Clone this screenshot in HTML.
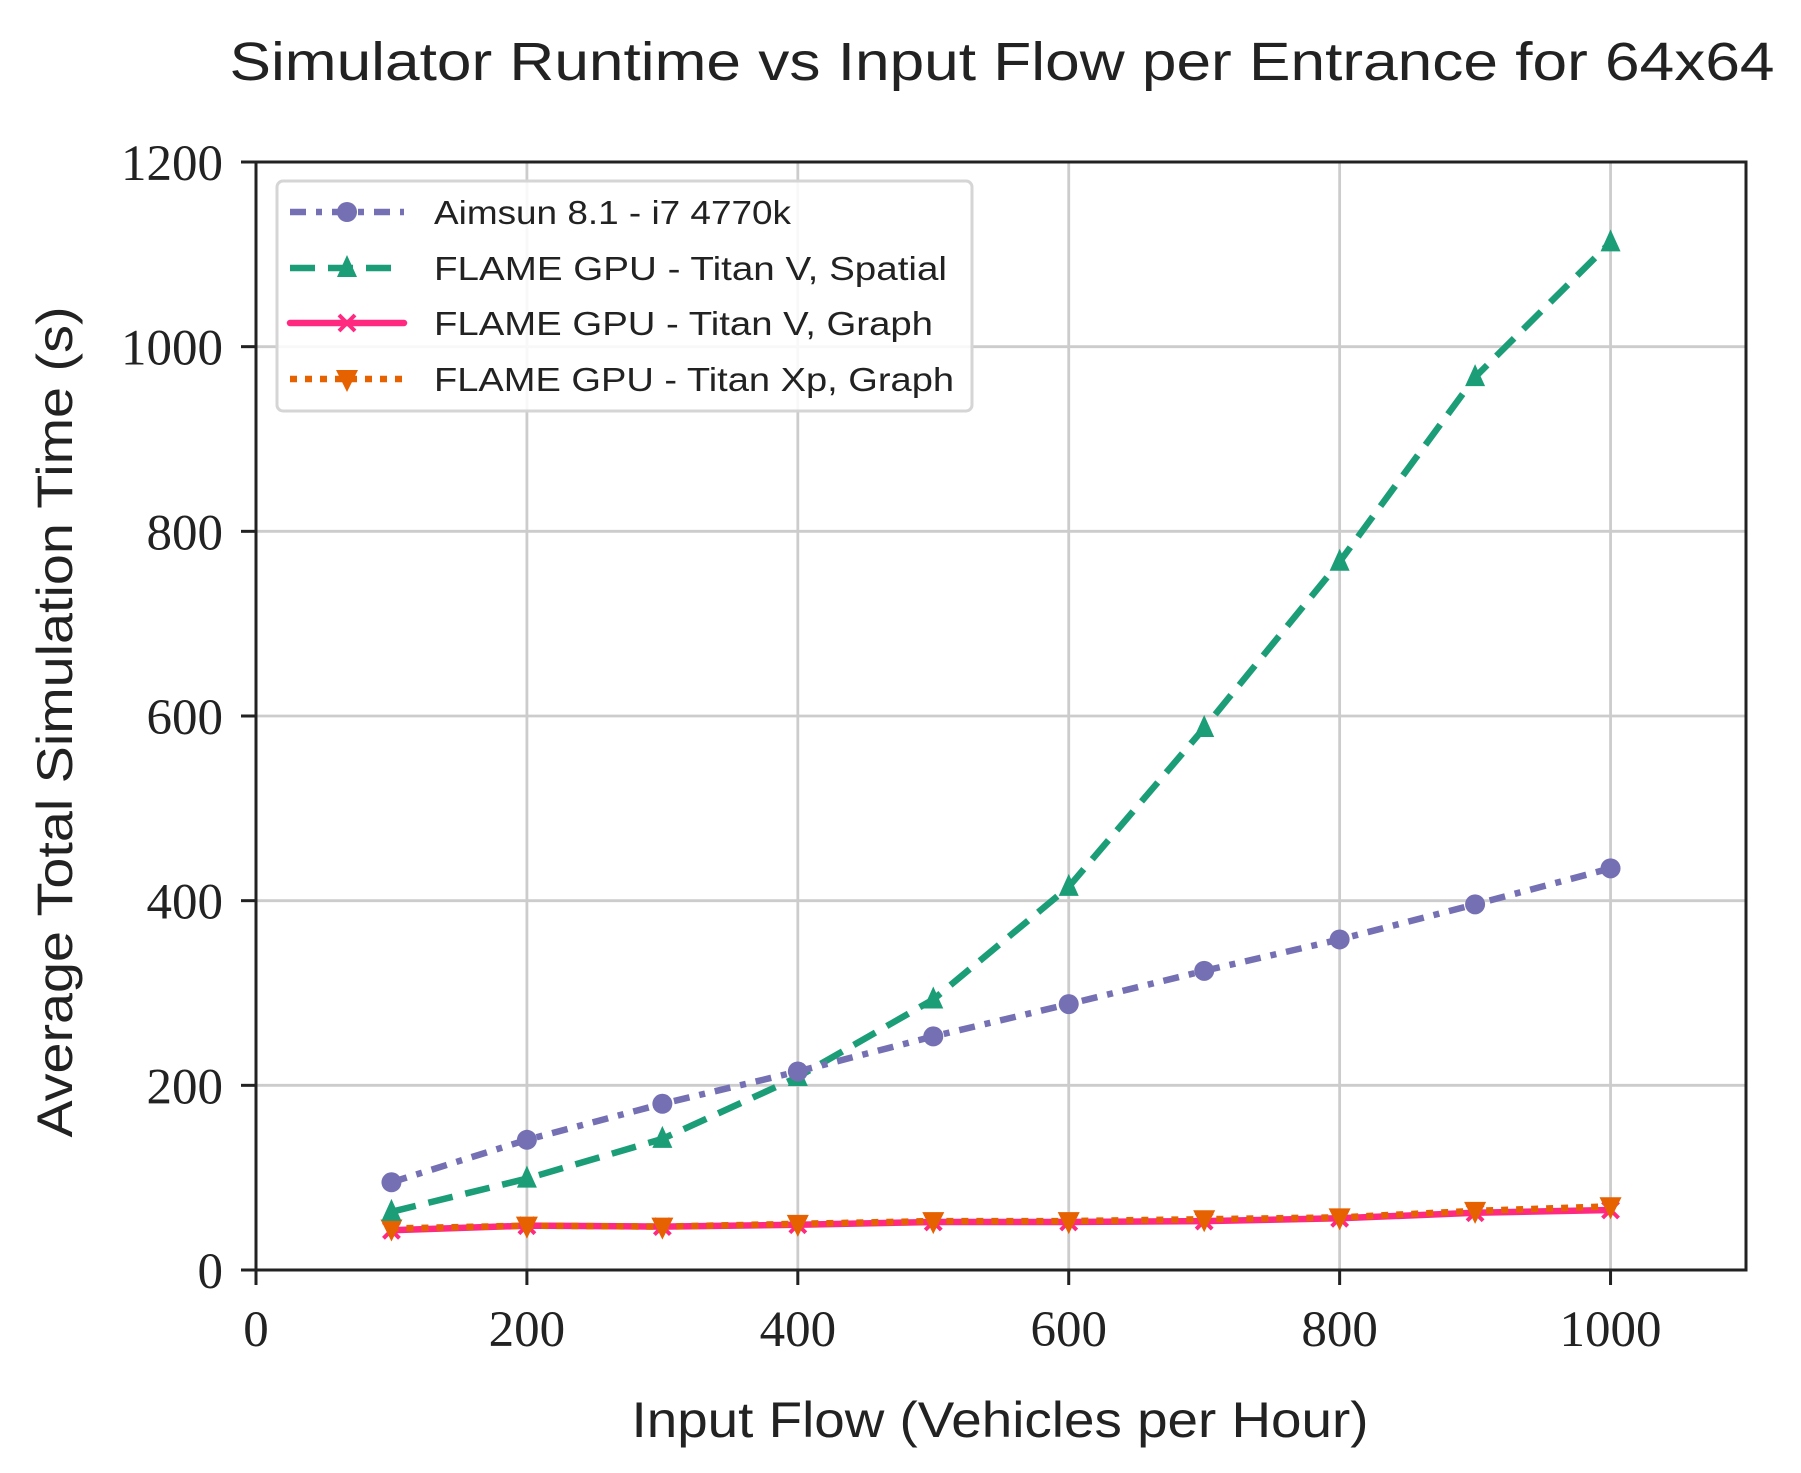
<!DOCTYPE html>
<html><head><meta charset="utf-8"><style>
body{margin:0;background:#fff;}
svg{display:block;}
.tick{font-family:"Liberation Serif",serif;font-size:51px;fill:#222;}
.sans{font-family:"Liberation Sans",sans-serif;fill:#222;}
</style></head><body>
<svg id="chart" width="1801" height="1473" viewBox="0 0 1801 1473">
<text x="1002" y="80" class="sans" font-size="54" text-anchor="middle" textLength="1545" lengthAdjust="spacingAndGlyphs">Simulator Runtime vs Input Flow per Entrance for 64x64</text>
<g id="grid"></g>
<g id="axes"></g>
<g id="series"></g>
<text x="1000" y="1437" class="sans" font-size="50" text-anchor="middle" textLength="737" lengthAdjust="spacingAndGlyphs">Input Flow (Vehicles per Hour)</text>
<text transform="translate(72,722) rotate(-90)" class="sans" font-size="50" text-anchor="middle" textLength="831" lengthAdjust="spacingAndGlyphs">Average Total Simulation Time (s)</text>
<g id="legend"></g>
</svg>
<script>
const categories = [100,200,300,400,500,600,700,800,900,1000];
const aimsun = [95,141,180,215,253,288,324,358,396,435];
const spatialV = [63,99,142,209,293,415,587,767,967,1113];
const graphV = [43,48,47,49,52,52,53,56,62,65];
const graphXp = [45,48,47,50,53,53,55,57,64,69];
const xTicks = [0,200,400,600,800,1000];
const yTicks = [0,200,400,600,800,1000,1200];
const seriesNames = ["Aimsun 8.1 - i7 4770k","FLAME GPU - Titan V, Spatial","FLAME GPU - Titan V, Graph","FLAME GPU - Titan Xp, Graph"];
const legendWidths = [357,513,499,520];

const L=256,R=1746,T=162,B=1270;
const xMax=1100,yMax=1200;
const sx=v=>L+(v/xMax)*(R-L);
const sy=v=>B-(v/yMax)*(B-T);
const NS="http://www.w3.org/2000/svg";
function mk(tag,attrs,parent){const e=document.createElementNS(NS,tag);for(const k in attrs)e.setAttribute(k,attrs[k]);parent.appendChild(e);return e;}
const grid=document.getElementById('grid'),axes=document.getElementById('axes'),ser=document.getElementById('series'),leg=document.getElementById('legend');

xTicks.forEach(v=>{
  const g=mk('line',{x1:sx(v),x2:sx(v),y1:T,y2:B,stroke:'#cccccc','stroke-width':2.8},grid);
  
  
  const t=mk('line',{x1:sx(v),x2:sx(v),y1:B,y2:B+15,stroke:'#222','stroke-width':3},axes);
  
  
  const l=mk('text',{x:sx(v),y:B+76,class:'tick','text-anchor':'middle'},axes);l.textContent=v;
  
  
});
yTicks.forEach(v=>{
  const g=mk('line',{x1:L,x2:R,y1:sy(v),y2:sy(v),stroke:'#cccccc','stroke-width':2.8},grid);
  
  
  const t=mk('line',{x1:L-15,x2:L,y1:sy(v),y2:sy(v),stroke:'#222','stroke-width':3},axes);
  
  
  const l=mk('text',{x:L-33,y:sy(v)+18,class:'tick','text-anchor':'end'},axes);l.textContent=v;
  
  
});
const frame=mk('rect',{x:L,y:T,width:R-L,height:B-T,fill:'none',stroke:'#222','stroke-width':3},axes);



function marker(kind,x,y,color,parent){
  let e;
  if(kind==='o') e=mk('circle',{cx:x,cy:y,r:10,fill:color},parent);
  else if(kind==='^') e=mk('polygon',{points:`${x},${y-13} ${x-10},${y+9} ${x+10},${y+9}`,fill:color},parent);
  else if(kind==='v') e=mk('polygon',{points:`${x},${y+13} ${x-11},${y-9} ${x+11},${y-9}`,fill:color},parent);
  else e=mk('path',{d:`M${x-8},${y-8}L${x+8},${y+8}M${x-8},${y+8}L${x+8},${y-8}`,stroke:color,'stroke-width':4},parent);
  return e;
}
const defs=[
  {vals:aimsun,color:'#7570b3',dash:'16 10 6 10',m:'o'},
  {vals:spatialV,color:'#1b9e77',dash:'25 13',m:'^'},
  {vals:graphV,color:'#ff2a80',dash:'',m:'x'},
  {vals:graphXp,color:'#e66100',dash:'7 8',m:'v'}
];
const order=[2,3,1,0];
order.forEach(i=>{
  const d=defs[i];
  const g=mk('g',{},ser);
  
  
  const pts=categories.map((c,j)=>sx(c)+','+sy(d.vals[j])).join(' ');
  const pl=mk('polyline',{points:pts,fill:'none',stroke:d.color,'stroke-width':6.5,'stroke-dasharray':d.dash||'none','stroke-linejoin':'round'},g);
  
  
  categories.forEach((c,j)=>{
    const m=marker(d.m,sx(c),sy(d.vals[j]),d.color,g);
    
    
  });
});

const box=mk('rect',{x:277,y:181,width:695,height:230,rx:6,fill:'rgba(255,255,255,0.85)',stroke:'#d5d5d5','stroke-width':3},leg);


const ly=[212,268,323,379];
defs.forEach((d,i)=>{
  const g=mk('g',{},leg);
  
  
  mk('line',{x1:290,x2:404,y1:ly[i],y2:ly[i],stroke:d.color,'stroke-width':6.5,'stroke-dasharray':d.dash||'none','stroke-linecap':d.dash?'butt':'round'},g);
  marker(d.m,347,ly[i],d.color,g);
  const t=mk('text',{x:434,y:ly[i]+12,class:'sans','font-size':33,textLength:legendWidths[i],lengthAdjust:'spacingAndGlyphs'},g);
  t.textContent=seriesNames[i];
});
</script>
</body></html>
